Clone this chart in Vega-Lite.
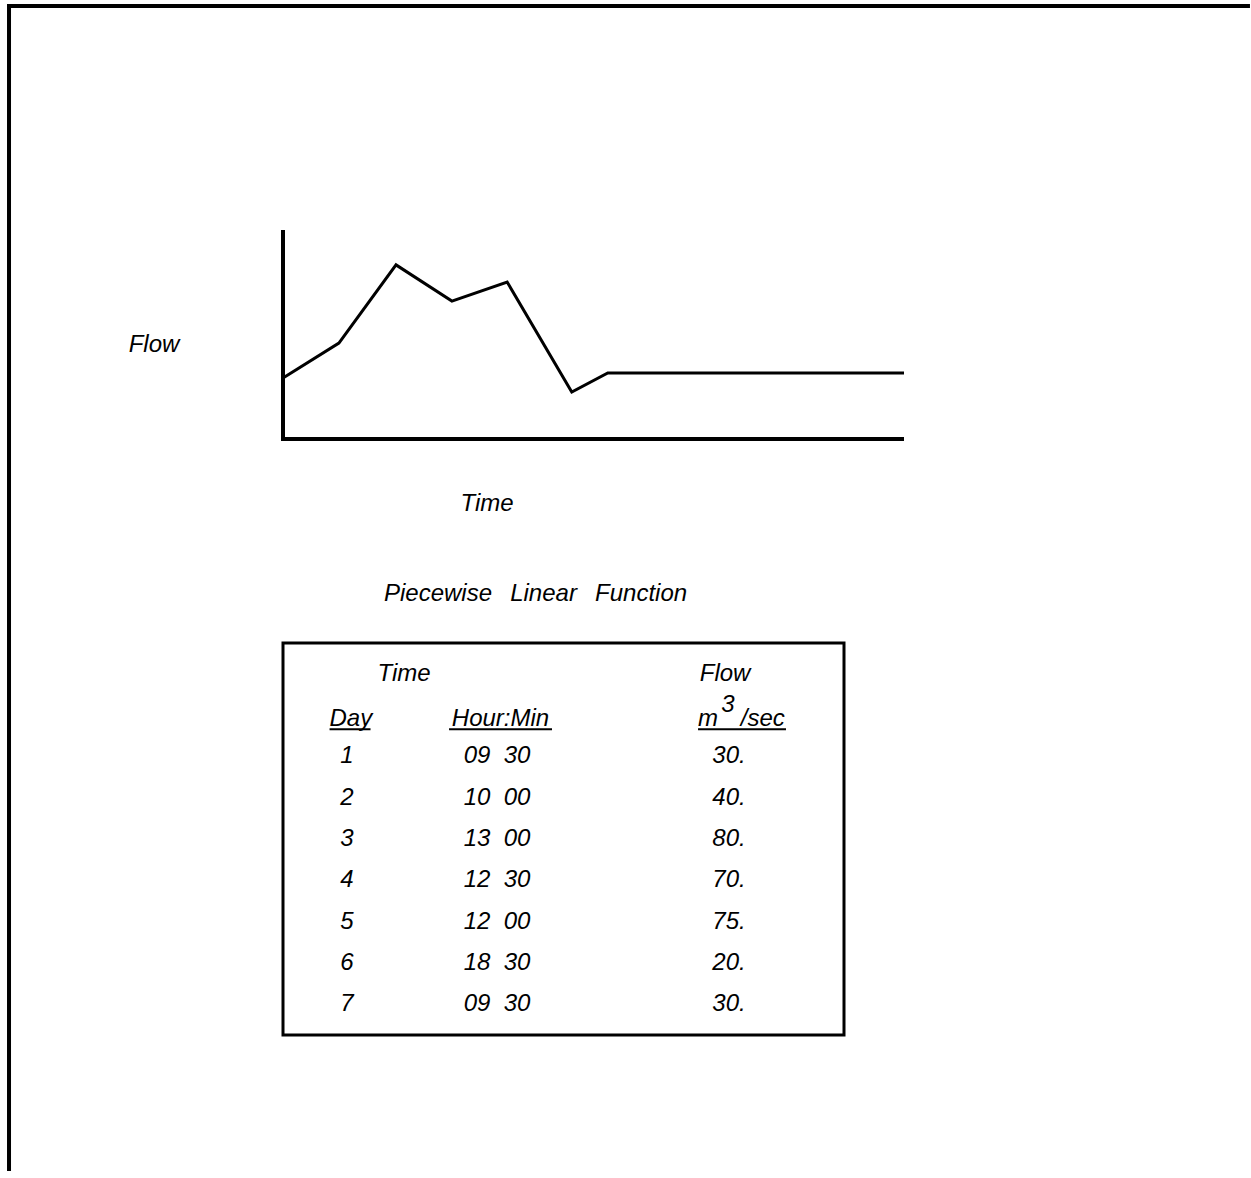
{
  "$schema": "https://vega.github.io/schema/vega-lite/v6.json",
  "background": "white",
  "padding": {"left": 6, "top": 3, "right": 0, "bottom": 0},
  "bounds": "flush",
  "spacing": 204,
  "config": {
    "view": {"stroke": null},
    "font": "Liberation Sans",
    "text": {"font": "Liberation Sans", "fontSize": 24, "fontStyle": "italic", "fontWeight": "normal", "color": "black", "baseline": "middle", "align": "center"}
  },
  "datasets": {
    "profile": [
      {"t": 0, "flow": 29.2},
      {"t": 9.0, "flow": 45.9},
      {"t": 18.2, "flow": 83.3},
      {"t": 27.2, "flow": 66.0},
      {"t": 36.1, "flow": 75.1},
      {"t": 46.5, "flow": 22.5},
      {"t": 52.3, "flow": 31.6},
      {"t": 100, "flow": 31.6}
    ],
    "table": [
      {"row": "1", "day": "1", "time": "09\u00a0\u00a030", "flow": "30."},
      {"row": "2", "day": "2", "time": "10\u00a0\u00a000", "flow": "40."},
      {"row": "3", "day": "3", "time": "13\u00a0\u00a000", "flow": "80."},
      {"row": "4", "day": "4", "time": "12\u00a0\u00a030", "flow": "70."},
      {"row": "5", "day": "5", "time": "12\u00a0\u00a000", "flow": "75."},
      {"row": "6", "day": "6", "time": "18\u00a0\u00a030", "flow": "20."},
      {"row": "7", "day": "7", "time": "09\u00a0\u00a030", "flow": "30."}
    ]
  },
  "vconcat": [
    {
      "width": 621,
      "height": 209,
      "layer": [
        {
          "data": {"name": "profile"},
          "mark": {"type": "line", "color": "black", "strokeWidth": 3},
          "encoding": {
            "x": {"field": "t", "type": "quantitative", "scale": {"domain": [0, 100], "nice": false, "zero": false}, "axis": null},
            "y": {"field": "flow", "type": "quantitative", "scale": {"domain": [0, 100], "nice": false, "zero": false}, "axis": null}
          }
        },
        {
          "data": {"values": [{"axis": "time"}]},
          "mark": {"type": "rule", "color": "black", "strokeWidth": 4},
          "encoding": {
            "x": {"datum": 0, "type": "quantitative", "axis": null},
            "x2": {"datum": 100},
            "y": {"datum": 0, "type": "quantitative", "axis": null}
          }
        },
        {
          "data": {"values": [{"axis": "flow"}]},
          "mark": {"type": "rule", "color": "black", "strokeWidth": 4},
          "encoding": {
            "x": {"datum": 0, "type": "quantitative", "axis": null},
            "y": {"datum": 100, "type": "quantitative", "axis": null},
            "y2": {"datum": -0.96}
          }
        },
        {
          "data": {"values": [{"label": "Flow"}]},
          "mark": {"type": "text", "clip": false},
          "encoding": {
            "x": {"datum": -20.77, "type": "quantitative", "axis": null},
            "y": {"datum": 45.02, "type": "quantitative", "axis": null},
            "text": {"field": "label"}
          }
        },
        {
          "data": {"values": [{"label": "Time"}]},
          "mark": {"type": "text", "clip": false},
          "encoding": {
            "x": {"datum": 32.85, "type": "quantitative", "axis": null},
            "y": {"datum": -31.3, "type": "quantitative", "axis": null},
            "text": {"field": "label"}
          }
        },
        {
          "data": {"values": [{"edge": "top"}]},
          "mark": {"type": "rule", "color": "black", "strokeWidth": 4, "strokeCap": "square", "clip": false},
          "encoding": {
            "x": {"datum": -44.12, "type": "quantitative", "axis": null},
            "x2": {"datum": 155.39},
            "y": {"datum": 207.18, "type": "quantitative", "axis": null}
          }
        },
        {
          "data": {"values": [{"edge": "left"}]},
          "mark": {"type": "rule", "color": "black", "strokeWidth": 4, "strokeCap": "square", "clip": false},
          "encoding": {
            "x": {"datum": -44.12, "type": "quantitative", "axis": null},
            "y": {"datum": 207.18, "type": "quantitative", "axis": null},
            "y2": {"datum": -349.28}
          }
        }
      ]
    },
    {
      "width": 561,
      "height": 392,
      "view": {"stroke": "black", "strokeWidth": 3},
      "title": {"text": "Piecewise\u00a0\u00a0\u2009Linear\u00a0\u00a0\u2009Function", "anchor": "start", "frame": "group", "dx": 101, "offset": 18, "baseline": "alphabetic", "font": "Liberation Sans", "fontSize": 24, "fontStyle": "italic", "fontWeight": "normal", "color": "black"},
      "layer": [
        {
          "data": {"name": "table"},
          "mark": {"type": "text"},
          "encoding": {
            "x": {"datum": 11.4, "type": "quantitative", "scale": {"domain": [0, 100]}, "axis": null},
            "y": {"field": "row", "type": "ordinal", "scale": {"type": "point", "domain": ["head", "units", "1", "2", "3", "4", "5", "6", "7"], "padding": 0.75}, "axis": null},
            "text": {"field": "day"}
          }
        },
        {
          "data": {"name": "table"},
          "mark": {"type": "text"},
          "encoding": {
            "x": {"datum": 38.15, "type": "quantitative", "scale": {"domain": [0, 100]}, "axis": null},
            "y": {"field": "row", "type": "ordinal", "axis": null},
            "text": {"field": "time"}
          }
        },
        {
          "data": {"name": "table"},
          "mark": {"type": "text"},
          "encoding": {
            "x": {"datum": 79.5, "type": "quantitative", "scale": {"domain": [0, 100]}, "axis": null},
            "y": {"field": "row", "type": "ordinal", "axis": null},
            "text": {"field": "flow"}
          }
        },
        {
          "data": {"values": [{"label": "Time"}]},
          "mark": {"type": "text"},
          "encoding": {
            "x": {"datum": 21.57, "type": "quantitative", "scale": {"domain": [0, 100]}, "axis": null},
            "y": {"datum": "head", "type": "ordinal", "axis": null},
            "text": {"field": "label"}
          }
        },
        {
          "data": {"values": [{"label": "Flow"}]},
          "mark": {"type": "text"},
          "encoding": {
            "x": {"datum": 78.8, "type": "quantitative", "scale": {"domain": [0, 100]}, "axis": null},
            "y": {"datum": "head", "type": "ordinal", "axis": null},
            "text": {"field": "label"}
          }
        },
        {
          "data": {"values": [{"label": "Day"}]},
          "mark": {"type": "text", "dy": 4},
          "encoding": {
            "x": {"datum": 12.1, "type": "quantitative", "scale": {"domain": [0, 100]}, "axis": null},
            "y": {"datum": "units", "type": "ordinal", "axis": null},
            "text": {"field": "label"}
          }
        },
        {
          "data": {"values": [{"label": "Hour:Min"}]},
          "mark": {"type": "text", "dy": 4},
          "encoding": {
            "x": {"datum": 38.77, "type": "quantitative", "scale": {"domain": [0, 100]}, "axis": null},
            "y": {"datum": "units", "type": "ordinal", "axis": null},
            "text": {"field": "label"}
          }
        },
        {
          "data": {"values": [{"label": "m"}]},
          "mark": {"type": "text", "dy": 4, "align": "left"},
          "encoding": {
            "x": {"datum": 73.98, "type": "quantitative", "scale": {"domain": [0, 100]}, "axis": null},
            "y": {"datum": "units", "type": "ordinal", "axis": null},
            "text": {"field": "label"}
          }
        },
        {
          "data": {"values": [{"label": "3"}]},
          "mark": {"type": "text", "dy": -10, "align": "left"},
          "encoding": {
            "x": {"datum": 78.1, "type": "quantitative", "scale": {"domain": [0, 100]}, "axis": null},
            "y": {"datum": "units", "type": "ordinal", "axis": null},
            "text": {"field": "label"}
          }
        },
        {
          "data": {"values": [{"label": "/sec"}]},
          "mark": {"type": "text", "dy": 4, "align": "left"},
          "encoding": {
            "x": {"datum": 81.6, "type": "quantitative", "scale": {"domain": [0, 100]}, "axis": null},
            "y": {"datum": "units", "type": "ordinal", "axis": null},
            "text": {"field": "label"}
          }
        },
        {
          "data": {"values": [{"under": "Day"}]},
          "mark": {"type": "rule", "color": "black", "strokeWidth": 2, "yOffset": 14},
          "encoding": {
            "x": {"datum": 8.3, "type": "quantitative", "scale": {"domain": [0, 100]}, "axis": null},
            "x2": {"datum": 15.6},
            "y": {"datum": "units", "type": "ordinal", "axis": null}
          }
        },
        {
          "data": {"values": [{"under": "Hour:Min"}]},
          "mark": {"type": "rule", "color": "black", "strokeWidth": 2, "yOffset": 14},
          "encoding": {
            "x": {"datum": 29.6, "type": "quantitative", "scale": {"domain": [0, 100]}, "axis": null},
            "x2": {"datum": 47.95},
            "y": {"datum": "units", "type": "ordinal", "axis": null}
          }
        },
        {
          "data": {"values": [{"under": "m3/sec"}]},
          "mark": {"type": "rule", "color": "black", "strokeWidth": 2, "yOffset": 14},
          "encoding": {
            "x": {"datum": 73.98, "type": "quantitative", "scale": {"domain": [0, 100]}, "axis": null},
            "x2": {"datum": 89.66},
            "y": {"datum": "units", "type": "ordinal", "axis": null}
          }
        }
      ]
    }
  ]
}
